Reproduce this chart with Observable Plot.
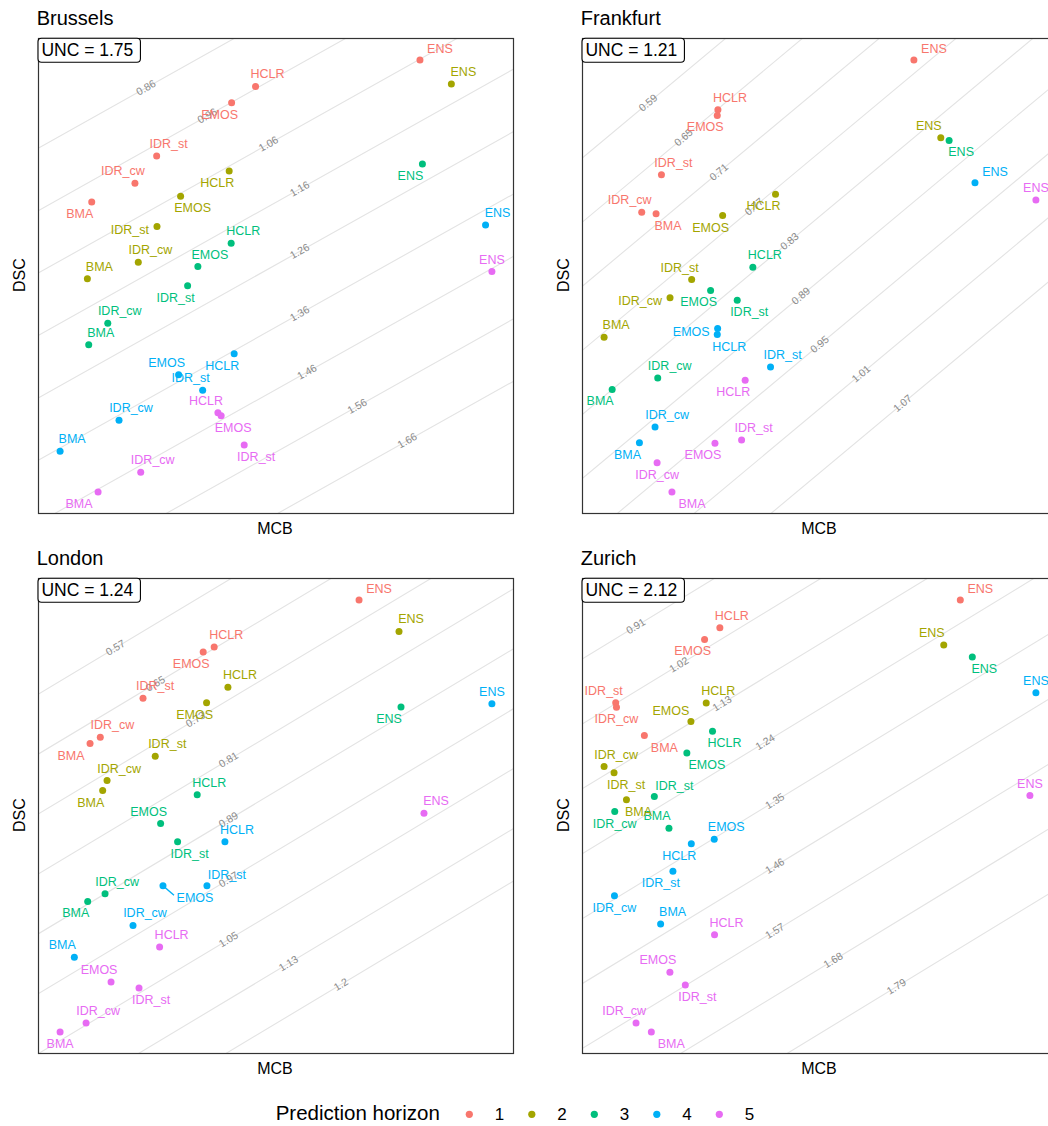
<!DOCTYPE html>
<html>
<head>
<meta charset="utf-8">
<script src="https://cdn.jsdelivr.net/npm/d3@7"></script>
<script src="https://cdn.jsdelivr.net/npm/@observablehq/plot@0.6"></script>
<style>
  html, body { margin: 0; padding: 0; background: #fff; overflow: hidden; }
  #root { position: relative; width: 1048px; height: 1126px; overflow: hidden;
          font-family: "Liberation Sans", Arial, Helvetica, sans-serif; }
  .panel { position: absolute; }
</style>
</head>
<body>
<div id="root"></div>
<script>
// ---------------- data ----------------
const cities = ["Brussels", "Frankfurt", "London", "Zurich"];
const uncValues = [1.75, 1.21, 1.24, 2.12];
const models = ["ENS", "HCLR", "EMOS", "IDR_st", "IDR_cw", "BMA"];
const horizons = [1, 2, 3, 4, 5];
const horizonColors = ["#F8766D", "#A3A500", "#00BF7D", "#00B0F6", "#E76BF3"];

// rows: prediction horizon 1..5, columns: models (ENS, HCLR, EMOS, IDR_st, IDR_cw, BMA)
const mcbBrussels = [
  [0.3424, 0.1948, 0.1733, 0.1060, 0.0865, 0.0477],
  [0.3706, 0.1711, 0.1275, 0.1063, 0.0895, 0.0438],
  [0.3446, 0.1729, 0.1430, 0.1338, 0.0621, 0.0450],
  [0.4013, 0.1756, 0.1257, 0.1473, 0.0722, 0.0193],
  [0.4070, 0.1610, 0.1639, 0.1846, 0.0917, 0.0534]
];
const dscBrussels = [
  [1.0309, 0.9887, 0.9626, 0.8773, 0.8335, 0.8037],
  [0.9925, 0.8533, 0.8127, 0.7642, 0.7071, 0.6805],
  [0.8645, 0.7375, 0.7002, 0.6693, 0.6095, 0.5749],
  [0.7669, 0.5605, 0.5269, 0.5018, 0.4538, 0.4042],
  [0.6922, 0.4661, 0.4613, 0.4143, 0.3706, 0.3391]
];
const mcbFrankfurt = [
  [0.2588, 0.1057, 0.1052, 0.0616, 0.0462, 0.0574],
  [0.2798, 0.1507, 0.1094, 0.0852, 0.0683, 0.0168],
  [0.2863, 0.1330, 0.1000, 0.1208, 0.0587, 0.0231],
  [0.3065, 0.1052, 0.1055, 0.1468, 0.0566, 0.0444],
  [0.3541, 0.1270, 0.1034, 0.1242, 0.0582, 0.0698]
];
const dscFrankfurt = [
  [0.7114, 0.6649, 0.6596, 0.6042, 0.5689, 0.5677],
  [0.6387, 0.5858, 0.5659, 0.5060, 0.4889, 0.4521],
  [0.6362, 0.5175, 0.4958, 0.4867, 0.4138, 0.4032],
  [0.5967, 0.4546, 0.4602, 0.4241, 0.3680, 0.3534],
  [0.5805, 0.4119, 0.3528, 0.3559, 0.3347, 0.3073]
];
const mcbLondon = [
  [0.2568, 0.1408, 0.1320, 0.0838, 0.0496, 0.0414],
  [0.2888, 0.1518, 0.1347, 0.0936, 0.0550, 0.0515],
  [0.2904, 0.1272, 0.0979, 0.1115, 0.0534, 0.0395],
  [0.3632, 0.1494, 0.0998, 0.1350, 0.0758, 0.0288],
  [0.3088, 0.0971, 0.0582, 0.0806, 0.0382, 0.0174]
];
const dscLondon = [
  [0.7955, 0.7328, 0.7262, 0.6643, 0.6123, 0.6039],
  [0.7536, 0.6790, 0.6586, 0.5870, 0.5546, 0.5412],
  [0.6528, 0.5355, 0.4972, 0.4728, 0.4035, 0.3932],
  [0.6572, 0.4728, 0.4142, 0.4142, 0.3612, 0.3186],
  [0.5110, 0.3323, 0.2856, 0.2776, 0.2310, 0.2190]
];
const mcbZurich = [
  [0.3903, 0.1419, 0.1261, 0.0343, 0.0351, 0.0639],
  [0.3732, 0.1278, 0.1120, 0.0326, 0.0223, 0.0454],
  [0.4027, 0.1343, 0.1078, 0.0742, 0.0333, 0.0893],
  [0.4684, 0.1124, 0.1361, 0.0934, 0.0330, 0.0807],
  [0.4622, 0.1364, 0.0903, 0.1062, 0.0553, 0.0711]
];
const dscZurich = [
  [1.3095, 1.2626, 1.2428, 1.1357, 1.1278, 1.0799],
  [1.2334, 1.1352, 1.1036, 1.0168, 1.0274, 0.9711],
  [1.2131, 1.0872, 1.0506, 0.9767, 0.9513, 0.9230],
  [1.1526, 0.8966, 0.9044, 0.8503, 0.8087, 0.7606],
  [0.9784, 0.7427, 0.6789, 0.6574, 0.5931, 0.5779]
];

// mean-score isolines (score = UNC - DSC + MCB)
const isoBrussels  = [0.86, 0.96, 1.06, 1.16, 1.26, 1.36, 1.46, 1.56, 1.66];
const isoFrankfurt = [0.59, 0.65, 0.71, 0.77, 0.83, 0.89, 0.95, 1.01, 1.07];
const isoLondon    = [0.57, 0.65, 0.73, 0.81, 0.89, 0.97, 1.05, 1.13, 1.2];
const isoZurich    = [0.91, 1.02, 1.13, 1.24, 1.35, 1.46, 1.57, 1.68, 1.79];

// ---------------- layout (label sides, repel-like) ----------------
const sideBrussels = [
  ["ene","ne","sw","ne","nw","sw"],
  ["ne","sw","se","w","ne","ne"],
  ["sw","ne","ne","sw","ne","ne"],
  ["ne","sw","nw","nw","ne","ne"],
  ["n","nw","se","se","ne","wsw"]
];
const sideFrankfurt = [
  ["ene","ne","sw","ne","nw","se"],
  ["nw","sw","sw","nw","w","ne"],
  ["se","ne","sw","se","ne","sw"],
  ["ene","se","w","ne","ne","sw"],
  ["n","sw","sw","ne","s","ese"]
];
const sideLondon = [
  ["ene","ne","sw","ne","ne","wsw"],
  ["ne","ne","sw","ne","ne","sw"],
  ["sw","ne","nw","se","ne","sw"],
  ["n","ne","far","ene","ne","nw"],
  ["ne","ne","nw","se","ne","s"]
];
const sideZurich = [
  ["ene","ne","sw","nw","s","ese"],
  ["nw","ne","wnw","se","ne","se"],
  ["se","se","ese","ene","s","nw"],
  ["n","sw","ne","sw","s","ne"],
  ["n","ne","nw","se","nw","ese"]
];
const isoLabelFraction = [0.55, 0.46, 0.40, 0.405];

const mcbAll = [mcbBrussels, mcbFrankfurt, mcbLondon, mcbZurich];
const dscAll = [dscBrussels, dscFrankfurt, dscLondon, dscZurich];
const isoAll = [isoBrussels, isoFrankfurt, isoLondon, isoZurich];
const sideAll = [sideBrussels, sideFrankfurt, sideLondon, sideZurich];

const FONT = '"Liberation Sans", Arial, Helvetica, sans-serif';
const sides = {
  ne:  {dx: 12,  dy: -12, anchor: "middle"},
  nw:  {dx: -12, dy: -12, anchor: "middle"},
  se:  {dx: 12,  dy: 12,  anchor: "middle"},
  sw:  {dx: -12, dy: 12,  anchor: "middle"},
  ene: {dx: 20,  dy: -11, anchor: "middle"},
  ese: {dx: 20,  dy: 12,  anchor: "middle"},
  wnw: {dx: -20, dy: -11, anchor: "middle"},
  wsw: {dx: -19, dy: 12,  anchor: "middle"},
  n:   {dx: 0,   dy: -12, anchor: "middle"},
  s:   {dx: 0,   dy: 12,  anchor: "middle"},
  w:   {dx: -8,  dy: 3,   anchor: "end"},
  far: {dx: 32,  dy: 12,  anchor: "middle"}
};

const root = document.getElementById("root");
const panelSize = 475, pad = 1;
const frameLeft = [37.5, 581.5], frameTop = [37.7, 577.7];

cities.forEach((city, ci) => {
  const col = ci % 2, row = Math.floor(ci / 2);
  const L = frameLeft[col], T = frameTop[row];
  const U = uncValues[ci];
  const rows = [];
  horizons.forEach((h, hi) => models.forEach((m, mi) => rows.push({
    horizon: h, model: m,
    mcb: mcbAll[ci][hi][mi], dsc: dscAll[ci][hi][mi], side: sideAll[ci][hi][mi]
  })));
  const expand = ext => { const s = ext[1] - ext[0]; return [ext[0] - 0.05 * s, ext[1] + 0.05 * s]; };
  const xDom = expand(d3.extent(rows, d => d.mcb));
  const yDom = expand(d3.extent(rows, d => d.dsc));
  const levels = isoAll[ci];
  const isoLines = levels.flatMap(S => [xDom[0] - 1, xDom[1] + 1].map(x => ({S, x, y: x + U - S})));
  const f = isoLabelFraction[ci];
  const isoLabels = levels.map(S => {
    const xa = Math.max(xDom[0], yDom[0] - U + S);
    const xb = Math.min(xDom[1], yDom[1] - U + S);
    const x = xa + f * (xb - xa);
    return {S, x, y: x + U - S, label: String(S)};
  });
  const angle = -Math.atan((xDom[1] - xDom[0]) / (yDom[1] - yDom[0])) * 180 / Math.PI;

  const xs = d3.scaleLinear(xDom, [pad, pad + panelSize]);
  const ys = d3.scaleLinear(yDom, [pad + panelSize, pad]);
  const farRows = rows.filter(d => d.side === "far").map(d => ({
    horizon: d.horizon, x1: d.mcb, y1: d.dsc,
    x2: xs.invert(xs(d.mcb) + 11), y2: ys.invert(ys(d.dsc) + 9.5)
  }));

  const chart = Plot.plot({
    width: panelSize + 2 * pad, height: panelSize + 2 * pad,
    marginTop: pad, marginRight: pad, marginBottom: pad, marginLeft: pad,
    x: {domain: xDom, axis: null},
    y: {domain: yDom, axis: null},
    color: {domain: horizons, range: horizonColors},
    style: {background: "transparent", overflow: "visible", maxWidth: "none", fontFamily: FONT},
    marks: [
      Plot.line(isoLines, {x: "x", y: "y", z: "S", stroke: "#e3e3e3", strokeWidth: 1.1, clip: true}),
      Plot.text(isoLabels, {x: "x", y: "y", text: "label", rotate: angle, fill: "#8a8a8a", fontSize: 10.5}),
      Plot.link(farRows, {x1: "x1", y1: "y1", x2: "x2", y2: "y2", stroke: "horizon", strokeWidth: 1.4}),
      Plot.dot(rows, {x: "mcb", y: "dsc", fill: "horizon", r: 3.5}),
      ...Object.entries(sides).map(([k, o]) =>
        Plot.text(rows.filter(d => d.side === k), {
          x: "mcb", y: "dsc", text: "model", fill: "horizon",
          dx: o.dx, dy: o.dy, textAnchor: o.anchor, fontSize: 12.5
        })),
      Plot.frame({stroke: "#333333", strokeWidth: 1.2})
    ]
  });
  const holder = document.createElement("div");
  holder.className = "panel";
  holder.style.left = (L - pad) + "px";
  holder.style.top = (T - pad) + "px";
  holder.appendChild(chart);
  root.appendChild(holder);
});

// ---------------- overlay text: titles, axis titles, UNC boxes, legend ----------------
const ov = d3.select(root).append("svg")
  .attr("width", 1048).attr("height", 1126)
  .style("position", "absolute").style("left", "0px").style("top", "0px")
  .style("pointer-events", "none").style("font-family", FONT);

cities.forEach((city, ci) => {
  const col = ci % 2, row = Math.floor(ci / 2);
  const L = frameLeft[col], T = frameTop[row];
  const B = T + panelSize, C = L + panelSize / 2;
  ov.append("text").attr("x", L - 0.8).attr("y", T - 12.7)
    .attr("font-size", 20).attr("fill", "#000").text(city);
  ov.append("text").attr("x", C).attr("y", B + 21.3).attr("text-anchor", "middle")
    .attr("font-size", 16).attr("fill", "#000").text("MCB");
  ov.append("text").attr("transform", `translate(${L - 12.5},${T + panelSize / 2}) rotate(-90)`)
    .attr("text-anchor", "middle").attr("font-size", 16).attr("fill", "#000").text("DSC");
  const g = ov.append("g");
  const rect = g.append("rect").attr("x", L + 0.5).attr("y", T + 0.6).attr("height", 24)
    .attr("rx", 3.5).attr("fill", "#fff").attr("stroke", "#000").attr("stroke-width", 1.1);
  const t = g.append("text").attr("x", L + 3.9).attr("y", T + 18.3)
    .attr("font-size", 17.5).attr("fill", "#000").text("UNC = " + uncValues[ci].toFixed(2));
  const len = t.node().getComputedTextLength();
  rect.attr("width", len + 10.5);
});

const lg = ov.append("g");
lg.append("text").attr("x", 275.7).attr("y", 1120).attr("font-size", 20.5).attr("fill", "#000")
  .text("Prediction horizon");
horizons.forEach((h, i) => {
  const cx = 469.3 + 62.5 * i;
  lg.append("circle").attr("cx", cx).attr("cy", 1114.3).attr("r", 3.6).attr("fill", horizonColors[i]);
  lg.append("text").attr("x", cx + 25.4).attr("y", 1120).attr("font-size", 17).attr("fill", "#000").text(h);
});
</script>
</body>
</html>
